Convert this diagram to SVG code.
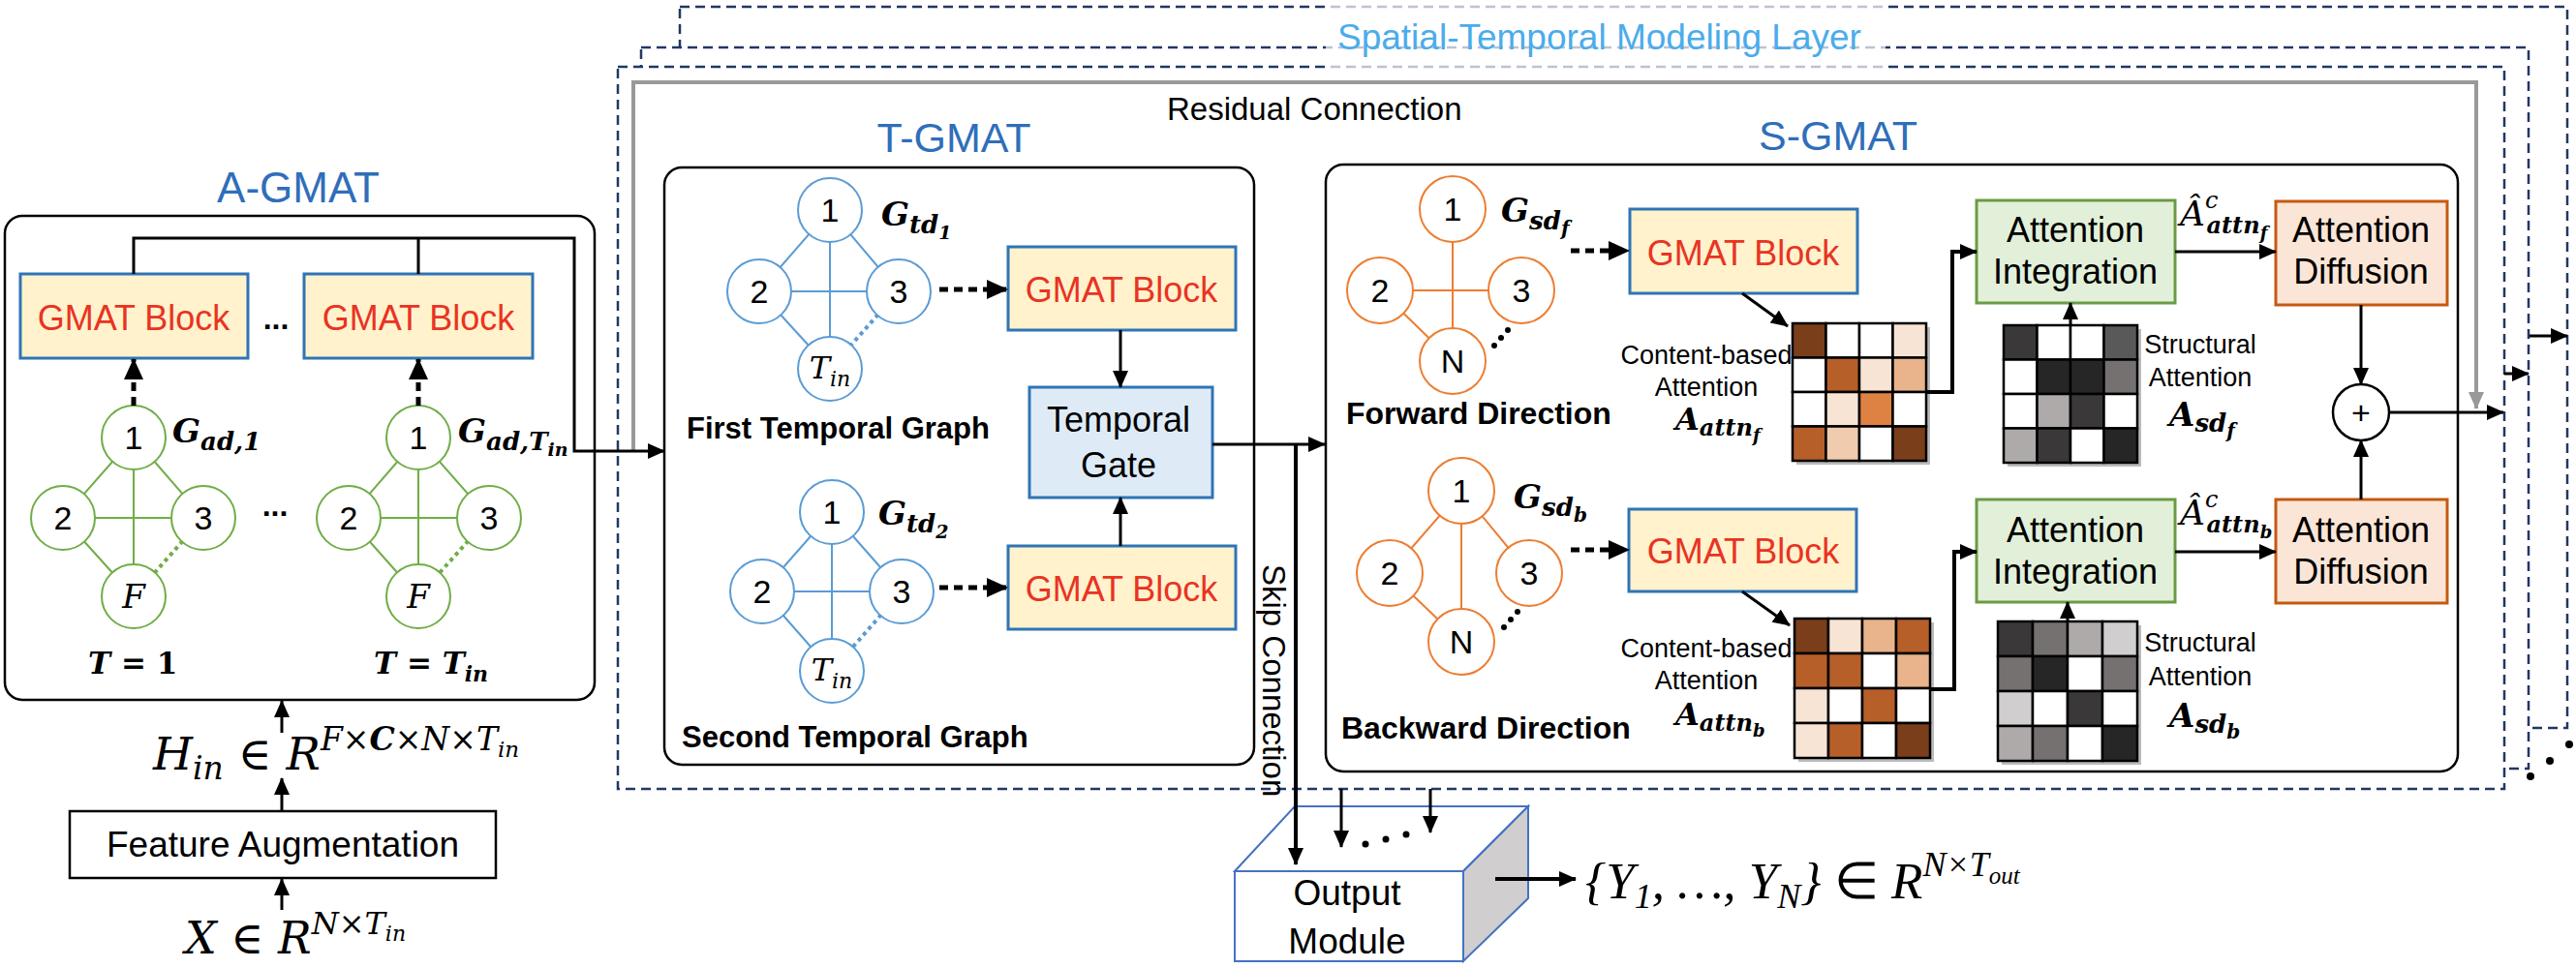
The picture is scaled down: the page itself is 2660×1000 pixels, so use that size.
<svg xmlns="http://www.w3.org/2000/svg" width="2660" height="1000" viewBox="0 0 2660 1000">
<defs>
<style>
.s{font-family:"Liberation Sans",Arial,sans-serif;}
.sb{font-family:"Liberation Sans",Arial,sans-serif;font-weight:bold;}
.m{font-family:"DejaVu Serif",serif;font-style:italic;}
.mb{font-family:"DejaVu Serif",serif;font-style:italic;font-weight:bold;}
.ms{font-family:"Liberation Serif","Times New Roman",serif;font-style:italic;}
.up{font-style:normal;}
.title{font-family:"Liberation Sans",Arial,sans-serif;fill:#2F6EBA;text-anchor:middle;}
.gb{fill:#FFF2CC;stroke:#2E75B6;stroke-width:3;}
.gbt{font-family:"Liberation Sans",Arial,sans-serif;fill:#E93323;font-size:36px;text-anchor:middle;}
.ln{fill:none;stroke:#000;stroke-width:3;}
.dash{fill:none;stroke:#000;stroke-width:5;stroke-dasharray:9 6;}
.ng{fill:#fff;stroke:#70AD47;stroke-width:2;}
.eg{stroke:#70AD47;stroke-width:2;}
.egd{stroke:#70AD47;stroke-width:4;stroke-dasharray:4 4;}
.nb{fill:#fff;stroke:#5B9BD5;stroke-width:2;}
.eb{stroke:#5B9BD5;stroke-width:2;}
.ebd{stroke:#5B9BD5;stroke-width:4;stroke-dasharray:4 4;}
.no{fill:#fff;stroke:#ED7D31;stroke-width:2;}
.eo{stroke:#ED7D31;stroke-width:2;}
.nt{font-family:"Liberation Sans",Arial,sans-serif;font-size:34px;text-anchor:middle;}
.layer{fill:#fff;stroke:#203864;stroke-width:2.5;stroke-dasharray:10 6;}
.ai{fill:#E2F0D9;stroke:#6A9B45;stroke-width:3;}
.ad{fill:#FBE5D6;stroke:#C55A11;stroke-width:3;}
.bt{font-family:"Liberation Sans",Arial,sans-serif;font-size:36px;text-anchor:middle;}
.sm{font-family:"Liberation Sans",Arial,sans-serif;font-size:27px;text-anchor:middle;}
.cell{stroke:#000;stroke-width:2.5;}
.D{fill:#7A3E1B}.M{fill:#B65F29}.O{fill:#DE8244}.L2{fill:#E9B48B}.L1{fill:#F0CBAD}.V{fill:#F8E4D5}.W{fill:#fff}
.g1{fill:#262626}.g2{fill:#3A3838}.g3{fill:#595959}.g4{fill:#767171}.g5{fill:#AEAAAA}.g6{fill:#D0CECE}
</style>
<marker id="ah" viewBox="0 0 18 16" refX="17" refY="8" markerWidth="18" markerHeight="16" markerUnits="userSpaceOnUse" orient="auto"><path d="M0,0 L18,8 L0,16 z" fill="#000"/></marker>
<marker id="ahd" viewBox="0 0 22 20" refX="21" refY="10" markerWidth="22" markerHeight="20" markerUnits="userSpaceOnUse" orient="auto"><path d="M0,0 L22,10 L0,20 z" fill="#000"/></marker>
<marker id="ahg" viewBox="0 0 18 16" refX="17" refY="8" markerWidth="18" markerHeight="16" markerUnits="userSpaceOnUse" orient="auto"><path d="M0,0 L18,8 L0,16 z" fill="#999"/></marker>
</defs>

<!-- stacked layers -->
<g id="layers">
<rect class="layer" x="702" y="7" width="1949" height="745"/>
<rect class="layer" x="662" y="49" width="1949" height="745"/>
<rect class="layer" x="638" y="69" width="1948" height="746"/>
<rect x="1369" y="0" width="578" height="75" fill="#fff" fill-opacity="0.7"/>
<text class="s" x="1381" y="51" font-size="37" fill="#4BACEB">Spatial-Temporal Modeling Layer</text>
<circle cx="2613" cy="802" r="4"/><circle cx="2633" cy="786" r="4"/><circle cx="2653" cy="769" r="4"/>
</g>

<!-- A-GMAT -->
<g id="a-gmat">
<text class="title" x="308" y="209" font-size="44">A-GMAT</text>
<rect x="5" y="223" width="609" height="500" rx="18" fill="#fff" stroke="#000" stroke-width="2.5"/>
<g id="a-gmat-block1"><rect class="gb" x="21" y="283" width="235" height="87"/><text class="gbt" x="138" y="341">GMAT Block</text></g>
<g id="a-gmat-block2"><rect class="gb" x="314" y="283" width="236" height="87"/><text class="gbt" x="432" y="341">GMAT Block</text></g>
<text class="sb" x="285" y="340" font-size="32" text-anchor="middle">...</text>
<g id="a-graph1">
<line class="eg" x1="138" y1="452" x2="65" y2="535"/><line class="eg" x1="138" y1="452" x2="210" y2="535"/>
<line class="eg" x1="138" y1="452" x2="138" y2="616"/><line class="eg" x1="65" y1="535" x2="210" y2="535"/>
<line class="eg" x1="65" y1="535" x2="138" y2="616"/><line class="egd" x1="210" y1="535" x2="138" y2="616"/>
<circle class="ng" cx="138" cy="452" r="33"/><circle class="ng" cx="65" cy="535" r="33"/>
<circle class="ng" cx="210" cy="535" r="33"/><circle class="ng" cx="138" cy="616" r="33"/>
<text class="nt" x="138" y="464">1</text><text class="nt" x="65" y="547">2</text><text class="nt" x="210" y="547">3</text>
<text class="m" x="138" y="628" font-size="34" text-anchor="middle">F</text>
<text class="mb" x="178" y="457" font-size="34">G<tspan font-size="26" dy="8">ad,1</tspan></text>
</g>
<text class="sb" x="284" y="533" font-size="32" text-anchor="middle">...</text>
<g id="a-graph2">
<line class="eg" x1="432" y1="452" x2="360" y2="535"/><line class="eg" x1="432" y1="452" x2="505" y2="535"/>
<line class="eg" x1="432" y1="452" x2="432" y2="616"/><line class="eg" x1="360" y1="535" x2="505" y2="535"/>
<line class="eg" x1="360" y1="535" x2="432" y2="616"/><line class="egd" x1="505" y1="535" x2="432" y2="616"/>
<circle class="ng" cx="432" cy="452" r="33"/><circle class="ng" cx="360" cy="535" r="33"/>
<circle class="ng" cx="505" cy="535" r="33"/><circle class="ng" cx="432" cy="616" r="33"/>
<text class="nt" x="432" y="464">1</text><text class="nt" x="360" y="547">2</text><text class="nt" x="505" y="547">3</text>
<text class="m" x="432" y="628" font-size="34" text-anchor="middle">F</text>
<text class="mb" x="473" y="457" font-size="34">G<tspan font-size="26" dy="8">ad,T</tspan><tspan font-size="19" dy="6">in</tspan></text>
</g>
<text class="mb" x="91" y="696" font-size="31">T <tspan class="up">= 1</tspan></text>
<text class="mb" x="386" y="696" font-size="31">T <tspan class="up">=</tspan> T<tspan font-size="22" dy="8">in</tspan></text>
</g>

<!-- input side -->
<g id="feature-aug">
<rect x="72" y="838" width="440" height="69" fill="#fff" stroke="#000" stroke-width="2.5"/>
<text class="s" x="292" y="885" font-size="37" text-anchor="middle">Feature Augmentation</text>
</g>
<text class="m" x="158" y="795" font-size="47">H<tspan font-size="33" dy="10">in</tspan><tspan class="up" font-size="47" dy="-10"> ∈ </tspan>R<tspan font-size="33" dy="-20">F×</tspan><tspan font-size="33" font-weight="bold">C</tspan><tspan font-size="33">×N×T</tspan><tspan font-size="23" dy="7">in</tspan></text>
<text class="m" x="191" y="985" font-size="46">X<tspan class="up"> ∈ </tspan>R<tspan font-size="32" dy="-20">N×T</tspan><tspan font-size="22" dy="7">in</tspan></text>

<!-- T-GMAT -->
<g id="t-gmat">
<text class="title" x="985" y="157" font-size="43">T-GMAT</text>
<rect x="686" y="173" width="609" height="617" rx="18" fill="#fff" stroke="#000" stroke-width="2.5"/>
<g id="t-graph1">
<line class="eb" x1="857" y1="217" x2="784" y2="301"/><line class="eb" x1="857" y1="217" x2="928" y2="301"/>
<line class="eb" x1="857" y1="217" x2="857" y2="381"/><line class="eb" x1="784" y1="301" x2="928" y2="301"/>
<line class="eb" x1="784" y1="301" x2="857" y2="381"/><line class="ebd" x1="928" y1="301" x2="857" y2="381"/>
<circle class="nb" cx="857" cy="217" r="33"/><circle class="nb" cx="784" cy="301" r="33"/>
<circle class="nb" cx="928" cy="301" r="33"/><circle class="nb" cx="857" cy="381" r="33"/>
<text class="nt" x="857" y="229">1</text><text class="nt" x="784" y="313">2</text><text class="nt" x="928" y="313">3</text>
<text class="m" x="857" y="391" font-size="32" text-anchor="middle">T<tspan font-size="22" dy="8">in</tspan></text>
<text class="mb" x="910" y="233" font-size="34">G<tspan font-size="26" dy="8">td</tspan><tspan font-size="19" dy="6">1</tspan></text>
</g>
<g id="t-graph2">
<line class="eb" x1="859" y1="529" x2="787" y2="611"/><line class="eb" x1="859" y1="529" x2="931" y2="611"/>
<line class="eb" x1="859" y1="529" x2="859" y2="693"/><line class="eb" x1="787" y1="611" x2="931" y2="611"/>
<line class="eb" x1="787" y1="611" x2="859" y2="693"/><line class="ebd" x1="931" y1="611" x2="859" y2="693"/>
<circle class="nb" cx="859" cy="529" r="33"/><circle class="nb" cx="787" cy="611" r="33"/>
<circle class="nb" cx="931" cy="611" r="33"/><circle class="nb" cx="859" cy="693" r="33"/>
<text class="nt" x="859" y="541">1</text><text class="nt" x="787" y="623">2</text><text class="nt" x="931" y="623">3</text>
<text class="m" x="859" y="703" font-size="32" text-anchor="middle">T<tspan font-size="22" dy="8">in</tspan></text>
<text class="mb" x="907" y="542" font-size="34">G<tspan font-size="26" dy="8">td</tspan><tspan font-size="19" dy="6">2</tspan></text>
</g>
<g id="t-gmat-block1"><rect class="gb" x="1041" y="255" width="235" height="86"/><text class="gbt" x="1158" y="312">GMAT Block</text></g>
<g id="t-gmat-block2"><rect class="gb" x="1041" y="564" width="235" height="86"/><text class="gbt" x="1158" y="621">GMAT Block</text></g>
<g id="temporal-gate"><rect x="1063" y="400" width="189" height="114" fill="#DEEBF7" stroke="#2E75B6" stroke-width="3"/>
<text class="bt" x="1155" y="446">Temporal</text><text class="bt" x="1155" y="493">Gate</text></g>
<text class="sb" x="709" y="453" font-size="31">First Temporal Graph</text>
<text class="sb" x="704" y="772" font-size="31">Second Temporal Graph</text>
</g>

<!-- S-GMAT -->
<g id="s-gmat">
<text class="title" x="1898" y="155" font-size="43">S-GMAT</text>
<rect x="1369" y="170" width="1169" height="627" rx="18" fill="#fff" stroke="#000" stroke-width="2.5"/>
<g id="s-graph-f">
<line class="eo" x1="1500" y1="216" x2="1500" y2="373"/><line class="eo" x1="1425" y1="300" x2="1571" y2="300"/>
<line class="eo" x1="1425" y1="300" x2="1500" y2="373"/>
<circle class="no" cx="1500" cy="216" r="34"/><circle class="no" cx="1425" cy="300" r="34"/>
<circle class="no" cx="1571" cy="300" r="34"/><circle class="no" cx="1500" cy="373" r="34"/>
<text class="nt" x="1500" y="228">1</text><text class="nt" x="1425" y="312">2</text><text class="nt" x="1571" y="312">3</text><text class="nt" x="1500" y="385">N</text>
<circle cx="1543" cy="357" r="3"/><circle cx="1550" cy="349" r="3"/><circle cx="1557" cy="341" r="3"/>
<text class="mb" x="1550" y="229" font-size="34">G<tspan font-size="26" dy="8">sd</tspan><tspan font-size="20" dy="6">f</tspan></text>
</g>
<g id="s-graph-b">
<line class="eo" x1="1509" y1="507" x2="1435" y2="592"/><line class="eo" x1="1509" y1="507" x2="1579" y2="592"/>
<line class="eo" x1="1509" y1="507" x2="1509" y2="663"/><line class="eo" x1="1435" y1="592" x2="1509" y2="663"/>
<circle class="no" cx="1509" cy="507" r="34"/><circle class="no" cx="1435" cy="592" r="34"/>
<circle class="no" cx="1579" cy="592" r="34"/><circle class="no" cx="1509" cy="663" r="34"/>
<text class="nt" x="1509" y="519">1</text><text class="nt" x="1435" y="604">2</text><text class="nt" x="1579" y="604">3</text><text class="nt" x="1509" y="675">N</text>
<circle cx="1553" cy="648" r="3"/><circle cx="1560" cy="640" r="3"/><circle cx="1567" cy="632" r="3"/>
<text class="mb" x="1563" y="525" font-size="34">G<tspan font-size="26" dy="8">sd</tspan><tspan font-size="20" dy="6">b</tspan></text>
</g>
<g id="s-gmat-block-f"><rect class="gb" x="1683" y="216" width="235" height="87"/><text class="gbt" x="1800" y="274">GMAT Block</text></g>
<g id="s-gmat-block-b"><rect class="gb" x="1682" y="526" width="235" height="85"/><text class="gbt" x="1800" y="582">GMAT Block</text></g>
<text class="sb" x="1390" y="438" font-size="32">Forward Direction</text>
<text class="sb" x="1385" y="763" font-size="32">Backward Direction</text>

<g id="content-attn-f">
<rect x="1855" y="338" width="138" height="142" fill="#bbb"/>
<rect class="cell D" x="1851" y="334" width="34.5" height="35.5"/><rect class="cell W" x="1885.5" y="334" width="34.5" height="35.5"/><rect class="cell W" x="1920" y="334" width="34.5" height="35.5"/><rect class="cell V" x="1954.5" y="334" width="34.5" height="35.5"/>
<rect class="cell W" x="1851" y="369.5" width="34.5" height="35.5"/><rect class="cell M" x="1885.5" y="369.5" width="34.5" height="35.5"/><rect class="cell V" x="1920" y="369.5" width="34.5" height="35.5"/><rect class="cell L2" x="1954.5" y="369.5" width="34.5" height="35.5"/>
<rect class="cell W" x="1851" y="405" width="34.5" height="35.5"/><rect class="cell V" x="1885.5" y="405" width="34.5" height="35.5"/><rect class="cell O" x="1920" y="405" width="34.5" height="35.5"/><rect class="cell W" x="1954.5" y="405" width="34.5" height="35.5"/>
<rect class="cell M" x="1851" y="440.5" width="34.5" height="35.5"/><rect class="cell L1" x="1885.5" y="440.5" width="34.5" height="35.5"/><rect class="cell W" x="1920" y="440.5" width="34.5" height="35.5"/><rect class="cell D" x="1954.5" y="440.5" width="34.5" height="35.5"/>
<text class="sm" x="1762" y="376">Content-based</text><text class="sm" x="1762" y="409">Attention</text>
<text class="mb" x="1730" y="444" font-size="32">A<tspan font-size="24" dy="6">attn</tspan><tspan font-size="18" dy="6">f</tspan></text>
</g>
<g id="content-attn-b">
<rect x="1857" y="643" width="140" height="144" fill="#bbb"/>
<rect class="cell D" x="1853" y="639" width="35" height="36"/><rect class="cell V" x="1888" y="639" width="35" height="36"/><rect class="cell L2" x="1923" y="639" width="35" height="36"/><rect class="cell M" x="1958" y="639" width="35" height="36"/>
<rect class="cell M" x="1853" y="675" width="35" height="36"/><rect class="cell M" x="1888" y="675" width="35" height="36"/><rect class="cell W" x="1923" y="675" width="35" height="36"/><rect class="cell L2" x="1958" y="675" width="35" height="36"/>
<rect class="cell V" x="1853" y="711" width="35" height="36"/><rect class="cell W" x="1888" y="711" width="35" height="36"/><rect class="cell M" x="1923" y="711" width="35" height="36"/><rect class="cell W" x="1958" y="711" width="35" height="36"/>
<rect class="cell V" x="1853" y="747" width="35" height="36"/><rect class="cell M" x="1888" y="747" width="35" height="36"/><rect class="cell W" x="1923" y="747" width="35" height="36"/><rect class="cell D" x="1958" y="747" width="35" height="36"/>
<text class="sm" x="1762" y="679">Content-based</text><text class="sm" x="1762" y="712">Attention</text>
<text class="mb" x="1730" y="749" font-size="32">A<tspan font-size="24" dy="6">attn</tspan><tspan font-size="18" dy="6">b</tspan></text>
</g>
<g id="struct-attn-f">
<rect x="2073" y="340" width="138" height="142" fill="#bbb"/>
<rect class="cell g2" x="2069" y="336" width="34.5" height="35.5"/><rect class="cell W" x="2103.5" y="336" width="34.5" height="35.5"/><rect class="cell W" x="2138" y="336" width="34.5" height="35.5"/><rect class="cell g3" x="2172.5" y="336" width="34.5" height="35.5"/>
<rect class="cell W" x="2069" y="371.5" width="34.5" height="35.5"/><rect class="cell g1" x="2103.5" y="371.5" width="34.5" height="35.5"/><rect class="cell g1" x="2138" y="371.5" width="34.5" height="35.5"/><rect class="cell g4" x="2172.5" y="371.5" width="34.5" height="35.5"/>
<rect class="cell W" x="2069" y="407" width="34.5" height="35.5"/><rect class="cell g5" x="2103.5" y="407" width="34.5" height="35.5"/><rect class="cell g2" x="2138" y="407" width="34.5" height="35.5"/><rect class="cell W" x="2172.5" y="407" width="34.5" height="35.5"/>
<rect class="cell g5" x="2069" y="442.5" width="34.5" height="35.5"/><rect class="cell g2" x="2103.5" y="442.5" width="34.5" height="35.5"/><rect class="cell W" x="2138" y="442.5" width="34.5" height="35.5"/><rect class="cell g1" x="2172.5" y="442.5" width="34.5" height="35.5"/>
<text class="sm" x="2272" y="365">Structural</text><text class="sm" x="2272" y="399">Attention</text>
<text class="mb" x="2240" y="440" font-size="34">A<tspan font-size="26" dy="6">sd</tspan><tspan font-size="20" dy="6">f</tspan></text>
</g>
<g id="struct-attn-b">
<rect x="2067" y="646" width="144" height="144" fill="#bbb"/>
<rect class="cell g2" x="2063" y="642" width="36" height="36"/><rect class="cell g4" x="2099" y="642" width="36" height="36"/><rect class="cell g5" x="2135" y="642" width="36" height="36"/><rect class="cell g6" x="2171" y="642" width="36" height="36"/>
<rect class="cell g4" x="2063" y="678" width="36" height="36"/><rect class="cell g1" x="2099" y="678" width="36" height="36"/><rect class="cell W" x="2135" y="678" width="36" height="36"/><rect class="cell g4" x="2171" y="678" width="36" height="36"/>
<rect class="cell g6" x="2063" y="714" width="36" height="36"/><rect class="cell W" x="2099" y="714" width="36" height="36"/><rect class="cell g2" x="2135" y="714" width="36" height="36"/><rect class="cell W" x="2171" y="714" width="36" height="36"/>
<rect class="cell g5" x="2063" y="750" width="36" height="36"/><rect class="cell g4" x="2099" y="750" width="36" height="36"/><rect class="cell W" x="2135" y="750" width="36" height="36"/><rect class="cell g1" x="2171" y="750" width="36" height="36"/>
<text class="sm" x="2272" y="673">Structural</text><text class="sm" x="2272" y="708">Attention</text>
<text class="mb" x="2240" y="751" font-size="34">A<tspan font-size="26" dy="6">sd</tspan><tspan font-size="20" dy="6">b</tspan></text>
</g>
<g id="attn-integration-f"><rect class="ai" x="2041" y="207" width="205" height="106"/><text class="bt" x="2143" y="250">Attention</text><text class="bt" x="2143" y="293">Integration</text></g>
<g id="attn-integration-b"><rect class="ai" x="2041" y="516" width="205" height="106"/><text class="bt" x="2143" y="560">Attention</text><text class="bt" x="2143" y="603">Integration</text></g>
<g id="attn-diffusion-f"><rect class="ad" x="2350" y="208" width="177" height="107"/><text class="bt" x="2438" y="250">Attention</text><text class="bt" x="2438" y="293">Diffusion</text></g>
<g id="attn-diffusion-b"><rect class="ad" x="2350" y="516" width="177" height="107"/><text class="bt" x="2438" y="560">Attention</text><text class="bt" x="2438" y="603">Diffusion</text></g>
<text class="m" x="2251" y="233" font-size="36">Â<tspan font-size="24" dy="-18">c</tspan><tspan class="mb" font-size="24" dx="-12" dy="26">attn</tspan><tspan class="mb" font-size="18" dy="6">f</tspan></text>
<text class="m" x="2251" y="542" font-size="36">Â<tspan font-size="24" dy="-18">c</tspan><tspan class="mb" font-size="24" dx="-12" dy="26">attn</tspan><tspan class="mb" font-size="18" dy="6">b</tspan></text>
<g id="plus"><circle cx="2438" cy="426" r="29" fill="#fff" stroke="#000" stroke-width="2.5"/><text class="s" x="2438" y="438" font-size="34" text-anchor="middle">+</text></g>
</g>

<!-- Output module -->
<g id="output-module">
<polygon points="1275,900 1337,833 1578,833 1511,900" fill="#fff" stroke="#4472C4" stroke-width="2"/>
<polygon points="1511,900 1578,833 1578,928 1511,993" fill="#D0CECE" stroke="#4472C4" stroke-width="2"/>
<rect x="1275" y="900" width="236" height="93" fill="#fff" stroke="#4472C4" stroke-width="2"/>
<text class="s" x="1391" y="935" font-size="37" text-anchor="middle">Output</text>
<text class="s" x="1391" y="985" font-size="37" text-anchor="middle">Module</text>
</g>
<text class="ms" x="1637" y="928" font-size="53">{Y<tspan font-size="36" dy="10">1</tspan><tspan dy="-10">, …, Y</tspan><tspan font-size="36" dy="10">N</tspan><tspan dy="-10">} </tspan><tspan class="up">∈</tspan> R<tspan font-size="36" dy="-23">N×T</tspan><tspan font-size="25" dy="8">out</tspan></text>

<!-- connectors -->
<g id="connectors">
<path d="M654,466 V85 H2557 V422" fill="none" stroke="#999" stroke-width="4" marker-end="url(#ahg)"/>
<text class="s" x="1205" y="124" font-size="33">Residual Connection</text>
<path class="ln" d="M138,283 V246 H593 V466 H686" marker-end="url(#ah)"/>
<line class="ln" x1="432" y1="283" x2="432" y2="246"/>
<line class="dash" x1="138" y1="419" x2="138" y2="371" marker-end="url(#ahd)"/>
<line class="dash" x1="432" y1="419" x2="432" y2="371" marker-end="url(#ahd)"/>
<line class="ln" x1="291" y1="940" x2="291" y2="908" marker-end="url(#ah)"/>
<line class="ln" x1="291" y1="838" x2="291" y2="804" marker-end="url(#ah)"/>
<line class="ln" x1="291" y1="757" x2="291" y2="724" marker-end="url(#ah)"/>
<line class="dash" x1="970" y1="299" x2="1040" y2="299" marker-end="url(#ahd)"/>
<line class="dash" x1="970" y1="607" x2="1040" y2="607" marker-end="url(#ahd)"/>
<line class="ln" x1="1157" y1="341" x2="1157" y2="400" marker-end="url(#ah)"/>
<line class="ln" x1="1157" y1="564" x2="1157" y2="514" marker-end="url(#ah)"/>
<line class="ln" x1="1252" y1="459" x2="1368" y2="459" marker-end="url(#ah)"/>
<line x1="1338" y1="459" x2="1338" y2="893" stroke="#000" stroke-width="4" marker-end="url(#ah)"/>
<text class="s" font-size="33" transform="translate(1304,583) rotate(90)">Skip Connection</text>
<line class="dash" x1="1622" y1="259" x2="1682" y2="259" marker-end="url(#ahd)"/>
<line class="dash" x1="1622" y1="568" x2="1682" y2="568" marker-end="url(#ahd)"/>
<line class="ln" x1="1799" y1="303" x2="1846" y2="337" marker-end="url(#ah)"/>
<line class="ln" x1="1799" y1="611" x2="1848" y2="646" marker-end="url(#ah)"/>
<path d="M1989,405 H2016 V260 H2041" fill="none" stroke="#000" stroke-width="4" marker-end="url(#ah)"/>
<path d="M1993,712 H2018 V570 H2041" fill="none" stroke="#000" stroke-width="4" marker-end="url(#ah)"/>
<line class="ln" x1="2138" y1="336" x2="2138" y2="313" marker-end="url(#ah)"/>
<line class="ln" x1="2135" y1="642" x2="2135" y2="622" marker-end="url(#ah)"/>
<line class="ln" x1="2246" y1="260" x2="2350" y2="260" marker-end="url(#ah)"/>
<line class="ln" x1="2246" y1="570" x2="2350" y2="570" marker-end="url(#ah)"/>
<line class="ln" x1="2438" y1="315" x2="2438" y2="397" marker-end="url(#ah)"/>
<line class="ln" x1="2438" y1="516" x2="2438" y2="455" marker-end="url(#ah)"/>
<line class="ln" x1="2467" y1="426" x2="2585" y2="426" marker-end="url(#ah)"/>
<line class="ln" x1="2586" y1="386" x2="2611" y2="386" marker-end="url(#ah)"/>
<line class="ln" x1="2612" y1="347" x2="2651" y2="347" marker-end="url(#ah)"/>
<line class="ln" x1="1385" y1="815" x2="1385" y2="875" marker-end="url(#ah)"/>
<line class="ln" x1="1477" y1="815" x2="1477" y2="860" marker-end="url(#ah)"/>
<circle cx="1410" cy="872" r="3.5"/><circle cx="1431" cy="867" r="3.5"/><circle cx="1452" cy="862" r="3.5"/>
<line x1="1544" y1="908" x2="1627" y2="908" stroke="#000" stroke-width="4" marker-end="url(#ah)"/>
</g>
</svg>
